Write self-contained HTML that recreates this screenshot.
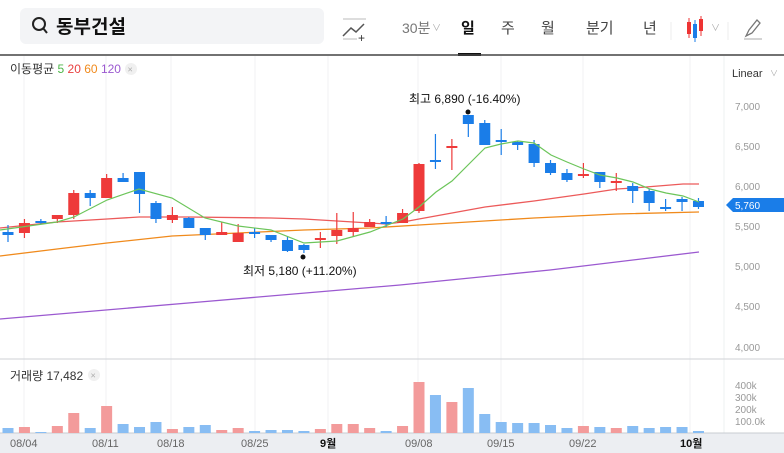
<!DOCTYPE html>
<html><head><meta charset="utf-8"><style>
body{margin:0;width:784px;height:453px;overflow:hidden;background:#fff;font-family:"Liberation Sans","Noto Sans CJK KR",sans-serif}
svg{display:block}
</style></head><body>
<svg id="s" width="784" height="453" xmlns="http://www.w3.org/2000/svg" font-family="Liberation Sans, Noto Sans CJK KR, sans-serif">
<rect x="20" y="8" width="304" height="36" rx="6" fill="#f3f4f6"/>
<circle cx="39" cy="24" r="6" fill="none" stroke="#222" stroke-width="2"/>
<line x1="43" y1="28" x2="47" y2="33" stroke="#222" stroke-width="2"/>
<text x="56" y="33" font-size="19" font-weight="bold" fill="#111">동부건설</text>
<polyline points="343,36 351,28 356,32 364,24" fill="none" stroke="#555" stroke-width="1.5"/>
<line x1="343" y1="19" x2="366" y2="19" stroke="#bbb"/>
<line x1="343" y1="39" x2="357" y2="39" stroke="#bbb"/>
<text x="358" y="42" font-size="12" fill="#333">+</text>
<text x="402" y="33" font-size="14" fill="#777">30분</text>
<text x="432" y="31" font-size="9" fill="#aaa">∨</text>
<text x="461" y="33" font-size="15" font-weight="bold" fill="#111">일</text>
<rect x="458" y="53" width="23" height="3" fill="#111"/>
<text x="501" y="33" font-size="15" fill="#444">주</text>
<text x="541" y="33" font-size="15" fill="#444">월</text>
<text x="586" y="33" font-size="15" fill="#444">분기</text>
<text x="643" y="33" font-size="15" fill="#444">년</text>
<line x1="671" y1="22" x2="671" y2="40" stroke="#eee"/>
<rect x="687" y="22" width="4" height="12" fill="#e33"/><line x1="689" y1="18" x2="689" y2="38" stroke="#e33"/>
<rect x="693" y="24" width="4" height="14" fill="#1a7de8"/><line x1="695" y1="20" x2="695" y2="42" stroke="#1a7de8"/>
<rect x="699" y="19" width="4" height="12" fill="#e33"/><line x1="701" y1="16" x2="701" y2="36" stroke="#e33"/>
<text x="711" y="31" font-size="9" fill="#aaa">∨</text>
<line x1="728" y1="22" x2="728" y2="40" stroke="#eee"/>
<path d="M746 36 L749 30 L757 20 L760 23 L752 33 Z" fill="none" stroke="#777" stroke-width="1.3"/>
<line x1="744" y1="39" x2="762" y2="39" stroke="#aaa"/>
<line x1="0" y1="55" x2="784" y2="55" stroke="#444" stroke-width="1.5"/>
<g id="grid" stroke="#f0f1f3"></g>
<line x1="724" y1="56" x2="724" y2="433" stroke="#eef0f2"/>
<line x1="0" y1="359" x2="784" y2="359" stroke="#cfd2d6"/>
<rect x="0" y="433" width="784" height="20" fill="#eceef2"/>
<line x1="0" y1="433" x2="784" y2="433" stroke="#c8ccd2"/>
<text x="10" y="73" font-size="12" fill="#333">이동평균 <tspan fill="#4cb648">5</tspan> <tspan fill="#e84040">20</tspan> <tspan fill="#f08a1c">60</tspan> <tspan fill="#9b59d0">120</tspan></text>
<circle cx="131" cy="69" r="6" fill="#f0f0f0"/><text x="127.5" y="72.5" font-size="9" fill="#aaa">×</text>
<text x="732" y="77" font-size="11" fill="#333">Linear</text><text x="770" y="76" font-size="8" fill="#aaa">∨</text>
<g font-size="10" fill="#999">
<text x="735" y="110">7,000</text><text x="735" y="150">6,500</text><text x="735" y="190">6,000</text>
<text x="735" y="230">5,500</text><text x="735" y="270">5,000</text><text x="735" y="310">4,500</text><text x="735" y="351">4,000</text>
<text x="735" y="389">400k</text><text x="735" y="401">300k</text><text x="735" y="413">200k</text><text x="735" y="425">100.0k</text>
</g>
<g font-size="11" fill="#666">
<text x="10" y="447">08/04</text><text x="92" y="447">08/11</text><text x="157" y="447">08/18</text><text x="241" y="447">08/25</text>
<text x="320" y="447" fill="#111" font-weight="bold">9월</text><text x="405" y="447">09/08</text><text x="487" y="447">09/15</text><text x="569" y="447">09/22</text>
<text x="680" y="447" fill="#111" font-weight="bold">10월</text>
</g>
<text x="10" y="380" font-size="12" fill="#333">거래량 17,482</text>
<circle cx="94" cy="375" r="6" fill="#f0f0f0"/><text x="90.5" y="378.5" font-size="9" fill="#aaa">×</text>
<g id="vol"></g>
<polyline fill="none" stroke="#9b59d0" stroke-width="1.3" points="0,319 200,302 400,285 550,270 699,252"/>
<polyline fill="none" stroke="#f08a1c" stroke-width="1.3" points="0,256 57,249 107,243 172,236 238,233 304,230 370,228 419,225 468,222 534,218 617,214 699,212"/>
<polyline fill="none" stroke="#ec5a5a" stroke-width="1.3" points="0,228 57,222 107,219 139,217 189,217 271,218 304,219 337,221 386,224 403,222 419,219 452,213 485,207 534,201 584,194 617,189 633,188 683,184 699,184"/>
<g id="c"></g>
<polyline fill="none" stroke="#6cc55a" stroke-width="1.2" points="0,230 57,222 74,217 107,200 139,189 172,198 205,218 238,226 271,230 304,243 337,241 370,232 403,219 419,207 436,192 452,181 468,165 485,148 501,144 518,141 534,143 551,155 567,162 584,169 600,175 617,178 633,182 650,189 666,193 683,196 699,202"/>
<circle cx="468" cy="112" r="2.5" fill="#111"/>
<text x="409" y="103" font-size="12" fill="#111">최고 6,890 (-16.40%)</text>
<circle cx="303" cy="257" r="2.5" fill="#111"/>
<text x="243" y="275" font-size="12" fill="#111">최저 5,180 (+11.20%)</text>
<path d="M726 205 L733 198 L784 198 L784 212 L733 212 Z" fill="#1a7de8"/>
<text x="735" y="209" font-size="10" fill="#fff">5,760</text>
</svg>
<script>
var R='#ee3a3a',B='#1a7de8',ns='http://www.w3.org/2000/svg';
// [color, bodyTop, bodyBot, wickTop, wickBot]
var d=[[B,232,235,225,242],[R,223,233,219,238],[B,221,223,219,224],[R,215,219,215,223],[R,193,215,190,219],[B,193,198,190,206],[R,178,198,174,198],[B,178,182,173,182],[B,172,194,172,213],[B,203,219,201,223],[R,215,220,207,223],[B,218,228,217,228],[B,228,235,228,240],[R,232,235,222,235],[R,233,242,224,242],[B,232,234,228,238],[B,235,240,235,242],[B,240,251,236,252],[B,245,250,244,253],[R,238,240,232,248],[R,230,236,213,244],[R,228,232,212,237],[R,222,227,219,227],[B,222,224,216,227],[R,213,223,209,223],[R,164,211,163,213],[B,160,162,134,169],[R,146,148,139,170],[B,115,124,115,137],[B,123,145,120,145],[B,140,142,129,155],[B,142,145,141,150],[B,144,163,140,167],[B,163,173,160,175],[B,173,180,169,182],[R,174,176,163,178],[B,172,182,172,188],[R,181,183,173,191],[B,186,191,183,203],[B,191,203,189,211],[B,207,209,199,211],[B,199,202,197,211],[B,201,207,198,209]];
var v=[428,427,432,426,413,428,406,424,427,422,429,427,425,430,428,431,430,430,431,429,424,424,428,431,426,382,395,402,388,414,422,423,423,425,428,426,427,428,426,428,427,427,431];
var c=document.getElementById('c'),vg=document.getElementById('vol'),g=document.getElementById('grid');
function el(p,t,a){var e=document.createElementNS(ns,t);for(var k in a)e.setAttribute(k,a[k]);p.appendChild(e);}
[24,106,171,255,328,418,501,583,690].forEach(function(x){el(g,'line',{x1:x,y1:56,x2:x,y2:433});});
d.forEach(function(q,i){var x=8+16.44*i;
el(c,'line',{x1:x,y1:q[3],x2:x,y2:q[4],stroke:q[0],'stroke-width':1.2});
el(c,'rect',{x:x-5.5,y:q[1],width:11,height:Math.max(q[2]-q[1],1.5),fill:q[0]});
var vc=q[0]==R?'#f39b9b':'#88bdf3';
el(vg,'rect',{x:x-5.5,y:v[i],width:11,height:433-v[i],fill:vc});});
</script>
</body></html>
